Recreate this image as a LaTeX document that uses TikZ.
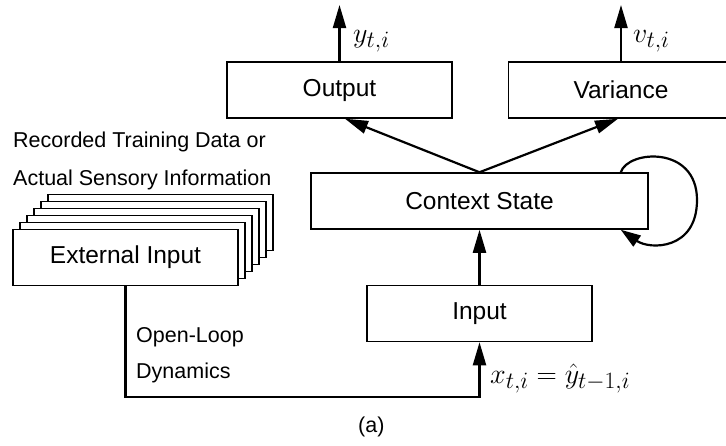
\documentclass[tikz,border=0pt]{standalone}
\usepackage{fontspec}
\setmainfont{Liberation Sans}
\usepackage{graphicx}
\usetikzlibrary{arrows.meta}
\begin{document}
\begin{tikzpicture}[x=1pt,y=1pt,
 box/.style={draw, line width=1.5pt, fill=white, minimum width=225pt, minimum height=56pt, inner sep=0pt, font=\fontsize{24.5}{29}\selectfont},
 arr/.style={line width=2.2pt, -{Triangle[length=23pt,width=13pt]}},
 ann/.style={font=\fontsize{21.5}{26}\selectfont, anchor=base west, inner sep=0pt},
 lab/.style={font=\fontsize{24.88}{30}\selectfont, anchor=base west, inner sep=0pt}]
\useasboundingbox (0,0) rectangle (726,-445);
\node[box] (out) at (339.5,-90) {Output};
\node[box] (var) at (621,-90) {Variance};
\node[box, minimum width=337pt] (cs) at (479.5,-201) {Context State};
\node[box] (in) at (479.5,-313.5) {Input};
\foreach \k in {5,4,3,2,1} \node[box] (ext\k) at ({125.5+7*\k},{-257.5+7*\k}) {};
\node[box] (ext) at (125.5,-257.5) {External Input};
\coordinate (ytop) at (339.5,-5);
\coordinate (vtop) at (621,-5);
\draw[arr] (out.north) -- (ytop);
\draw[arr] (var.north) -- (vtop);
\draw[arr] (cs.north) -- ([xshift=5.5pt]out.south);
\draw[arr] (cs.north) -- ([xshift=-3pt]var.south);
\draw[arr] (in.north) -- (cs.south);
\draw[line width=2.2pt, -{Triangle[length=20pt,width=13pt]}] ([xshift=-28pt]cs.north east) .. controls (628,-150) and (697,-145) .. (697,-200) .. controls (697,-250) and (650,-250) .. ([xshift=-28pt]cs.south east);
\draw[arr] (ext.south) |- ([yshift=-55pt]in.south) -- (in.south);
\node[ann] (rec) at (13,-147) {Recorded Training Data or};
\node[ann] (act) at (13,-185) {Actual Sensory Information};
\node[ann] (ol) at (136,-342) {Open-Loop};
\node[ann] (dy) at (136,-378) {Dynamics};
\node[ann] (a) at (358,-432) {(a)};
\node[lab] (yl) at (353,-42) {\scalebox{1.13}{$y_{t,i}$}};
\node[lab] (vl) at (633,-42) {\scalebox{1.13}{$v_{t,i}$}};
\node[lab] (xl) at (490,-383) {\scalebox{1.13}{$x_{t,i}=\hat{y}_{t-1,i}$}};
\end{tikzpicture}
\end{document}
